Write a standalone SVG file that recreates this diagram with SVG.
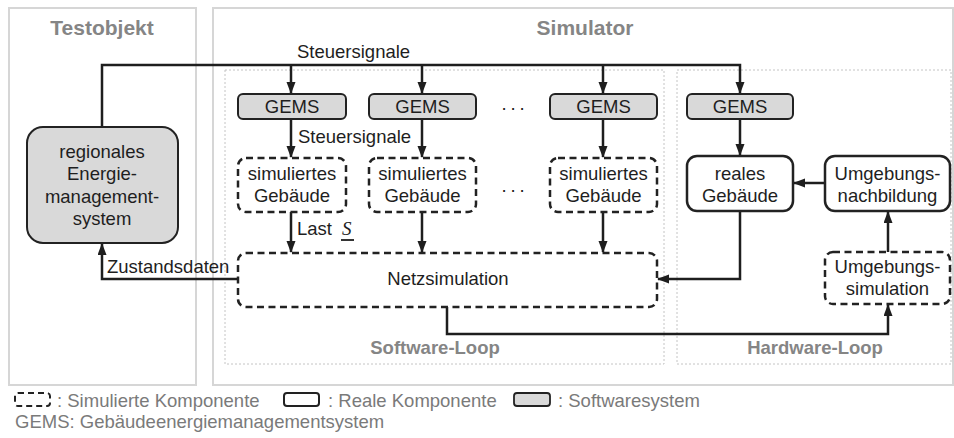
<svg xmlns="http://www.w3.org/2000/svg" width="954" height="438" viewBox="0 0 954 438">
<style>
text{font-family:"Liberation Sans",Arial,sans-serif;font-size:18.5px;fill:#1e1e1e}
.t{text-anchor:middle}
.h{font-weight:bold;fill:#858585;font-size:21px;text-anchor:middle}
.lp{font-weight:bold;fill:#858585;text-anchor:middle}
.lg{fill:#7a7a7a}
.frame{fill:none;stroke:#d6d6d6;stroke-width:2}
.loop{fill:none;stroke:#c4c4c4;stroke-width:1;stroke-dasharray:2 2}
.sw{fill:#d9d9d9;stroke:#222;stroke-width:2}
.real{fill:#fff;stroke:#222;stroke-width:2.5}
.sim{fill:#fff;stroke:#222;stroke-width:2.5;stroke-dasharray:7 4.5}
.c{fill:none;stroke:#1e1e1e;stroke-width:2.5}
</style>
<defs>
<marker id="a" markerUnits="userSpaceOnUse" markerWidth="13" markerHeight="10" refX="11" refY="4.5" orient="auto">
<path d="M0,0 L12,4.5 L0,9 z" fill="#1e1e1e"/>
</marker>
</defs>
<rect class="frame" x="9" y="8" width="187" height="377"/>
<rect class="frame" x="213" y="8" width="740" height="377"/>
<text class="h" x="102" y="35">Testobjekt</text>
<text class="h" x="585" y="35">Simulator</text>
<rect class="loop" x="225" y="70" width="439" height="294"/>
<rect class="loop" x="677" y="70" width="274" height="294"/>
<text class="lp" x="435" y="354">Software-Loop</text>
<text class="lp" x="815" y="354">Hardware-Loop</text>

<g id="connectors">
<path class="c" d="M102,127 V65 H740 V93" marker-end="url(#a)"/>
<path class="c" d="M291,65 V93" marker-end="url(#a)"/>
<path class="c" d="M422,65 V93" marker-end="url(#a)"/>
<path class="c" d="M603,65 V93" marker-end="url(#a)"/>
<path class="c" d="M291,119 V157" marker-end="url(#a)"/>
<path class="c" d="M422,119 V157" marker-end="url(#a)"/>
<path class="c" d="M603,119 V157" marker-end="url(#a)"/>
<path class="c" d="M740,119 V155" marker-end="url(#a)"/>
<path class="c" d="M291,212 V252" marker-end="url(#a)"/>
<path class="c" d="M422,212 V252" marker-end="url(#a)"/>
<path class="c" d="M603,212 V252" marker-end="url(#a)"/>
<path class="c" d="M825,183 H794" marker-end="url(#a)"/>
<path class="c" d="M740,211 V279 H658" marker-end="url(#a)"/>
<path class="c" d="M238,279 H102 V244" marker-end="url(#a)"/>
<path class="c" d="M447,307 V334 H888 V305" marker-end="url(#a)"/>
<path class="c" d="M888,252 V212" marker-end="url(#a)"/>
<text x="297" y="58">Steuersignale</text>
<text x="298" y="143">Steuersignale</text>
<text x="297" y="235">Last</text>
<text x="342" y="235" style="font-family:'Liberation Serif','Times New Roman',serif;font-style:italic;font-size:19px">S</text>
<line x1="341" y1="240" x2="354" y2="240" stroke="#1e1e1e" stroke-width="1.8"/>
<text x="107" y="273">Zustandsdaten</text>
</g>

<g id="rems">
<rect class="sw" x="27" y="127" width="151" height="116" rx="16"/>
<text class="t" x="102" y="158">regionales</text>
<text class="t" x="102" y="180">Energie-</text>
<text class="t" x="102" y="203">management-</text>
<text class="t" x="102" y="225">system</text>
</g>
<g id="gems1"><rect class="sw" x="238" y="94" width="108" height="25" rx="5"/><text class="t" x="292" y="113">GEMS</text></g>
<g id="gems2"><rect class="sw" x="369" y="94" width="107" height="25" rx="5"/><text class="t" x="422.5" y="113">GEMS</text></g>
<g id="gems3"><rect class="sw" x="550" y="94" width="107" height="25" rx="5"/><text class="t" x="603.5" y="113">GEMS</text></g>
<g id="gems4"><rect class="sw" x="687" y="94" width="106" height="25" rx="5"/><text class="t" x="740" y="113">GEMS</text></g>
<g id="dots1"><text x="501.4" y="110" style="letter-spacing:3.9px">...</text></g>
<g id="dots2"><text x="501.4" y="192" style="letter-spacing:3.9px">...</text></g>

<g id="sim1"><rect class="sim" x="238" y="158" width="108" height="54" rx="8"/><text class="t" x="292" y="180">simuliertes</text><text class="t" x="292" y="202">Gebäude</text></g>
<g id="sim2"><rect class="sim" x="369" y="158" width="107" height="54" rx="8"/><text class="t" x="422.5" y="180">simuliertes</text><text class="t" x="422.5" y="202">Gebäude</text></g>
<g id="sim3"><rect class="sim" x="550" y="158" width="107" height="54" rx="8"/><text class="t" x="603.5" y="180">simuliertes</text><text class="t" x="603.5" y="202">Gebäude</text></g>
<g id="real"><rect class="real" x="687" y="156" width="106" height="55" rx="10"/><text class="t" x="740" y="180">reales</text><text class="t" x="740" y="202">Gebäude</text></g>
<g id="umgnach"><rect class="real" x="825" y="156" width="125" height="55" rx="10"/><text class="t" x="887.5" y="180">Umgebungs-</text><text class="t" x="887.5" y="202">nachbildung</text></g>
<g id="netz"><rect class="sim" x="238" y="253" width="419" height="54" rx="8"/><text class="t" x="448" y="285">Netzsimulation</text></g>
<g id="umgsim"><rect class="sim" x="825" y="252" width="125" height="52" rx="8"/><text class="t" x="887.5" y="273">Umgebungs-</text><text class="t" x="887.5" y="295">simulation</text></g>

<g id="legend">
<rect x="15" y="393" width="35" height="13" rx="3" fill="none" stroke="#222" stroke-width="2" stroke-dasharray="6 4"/>
<text class="lg" x="57" y="407">: Simulierte Komponente</text>
<rect x="284" y="393" width="35" height="13" rx="3" fill="none" stroke="#222" stroke-width="2"/>
<text class="lg" x="328" y="407">: Reale Komponente</text>
<rect x="514" y="393" width="36" height="13" rx="3" fill="#d9d9d9" stroke="#222" stroke-width="1.8"/>
<text class="lg" x="558" y="407">: Softwaresystem</text>
<text class="lg" x="15" y="428">GEMS: Gebäudeenergiemanagementsystem</text>
</g>
</svg>
